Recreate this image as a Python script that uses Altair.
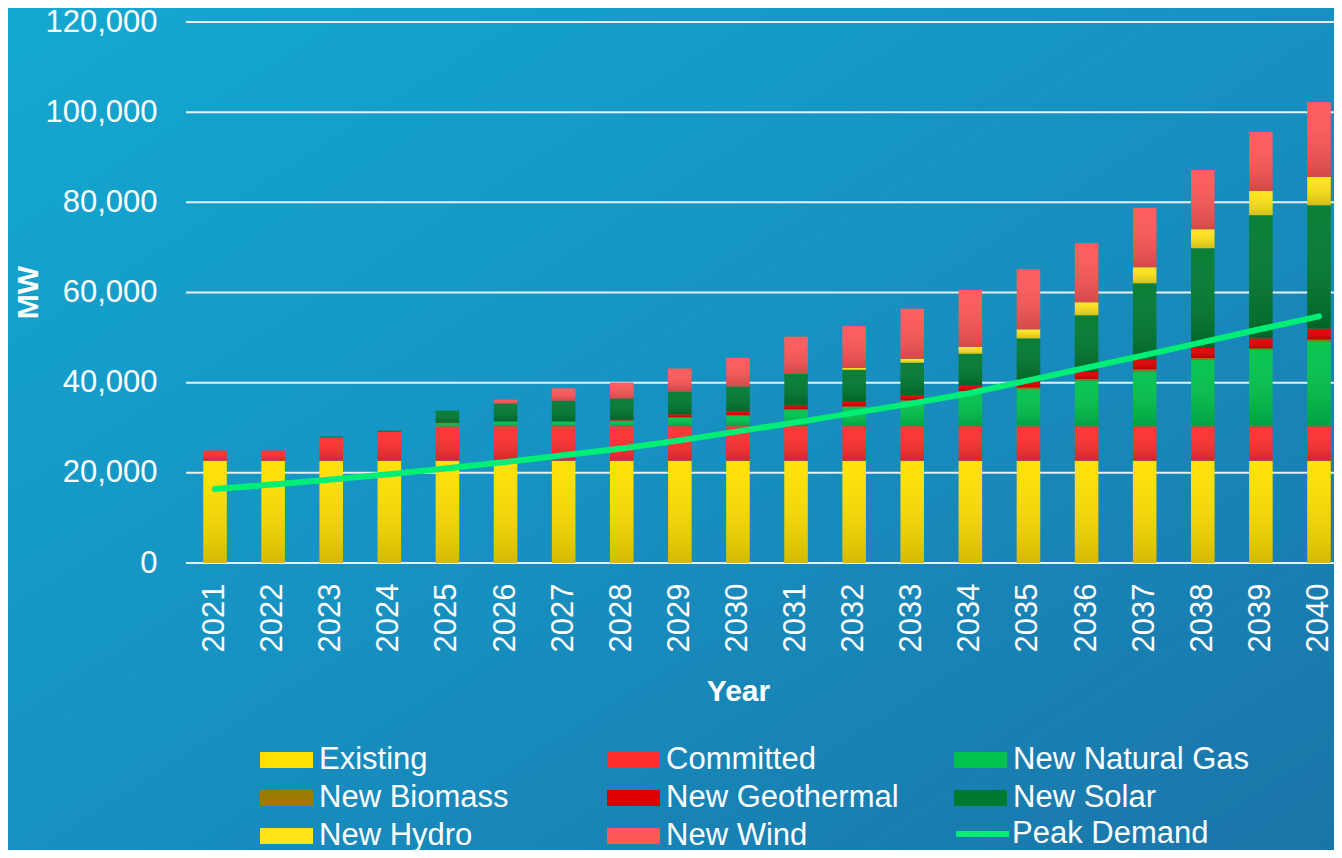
import altair as alt
import pandas as pd

years = [str(y) for y in range(2021, 2041)]
categories = ["Existing", "Committed", "New Natural Gas", "New Biomass",
              "New Geothermal", "New Solar", "New Hydro", "New Wind"]
colors = ["#FFE000", "#FF2E2E", "#00C24C", "#9C7C00",
          "#E00000", "#007A30", "#FFE41A", "#FF5757"]

existing = [22700, 22700, 22700, 22700, 22700, 22700, 22700, 22700, 22700, 22700,
            22700, 22700, 22700, 22700, 22700, 22700, 22700, 22700, 22700, 22700]
committed = [2250, 2250, 5150, 6450, 7600, 7650, 7650, 7650, 7650, 7650,
             7650, 7650, 7650, 7650, 7650, 7650, 7650, 7650, 7650, 7650]
new_gas = [0, 0, 0, 0, 500, 1040, 1040, 1100, 1850, 2300,
           3600, 4250, 5600, 7600, 8220, 10150, 12150, 14670, 16890, 18810]
new_biomass = [0, 0, 0, 0, 300, 0, 0, 200, 150, 150,
               150, 150, 150, 200, 370, 300, 440, 440, 370, 440]
new_geothermal = [0, 0, 0, 0, 0, 0, 0, 100, 650, 800,
                  1000, 1200, 1200, 1150, 1780, 1560, 2150, 2220, 2220, 2440]
new_solar = [0, 0, 200, 220, 2680, 3950, 4620, 4740, 5030, 5550,
             6810, 6890, 7110, 7110, 9110, 12590, 16960, 22150, 27330, 27340]
new_hydro = [0, 0, 0, 0, 0, 0, 0, 0, 0, 0,
             0, 440, 890, 1550, 2000, 2890, 3560, 4220, 5340, 6220]
new_wind = [0, 0, 0, 0, 0, 890, 2730, 3550, 5110, 6370,
            8290, 9260, 11110, 12600, 13330, 13110, 13180, 13110, 13110, 16660]
peak_demand = [16400, 17400, 18500, 19700, 21000, 22400, 23900, 25400, 27200, 29200,
               31200, 33300, 35400, 37700, 40500, 43300, 46100, 49000, 51900, 54700]
y_ticks = [0, 20000, 40000, 60000, 80000, 100000, 120000]

series = [existing, committed, new_gas, new_biomass, new_geothermal,
          new_solar, new_hydro, new_wind]
rows = []
for k, (cat, vals) in enumerate(zip(categories, series)):
    for yr, v in zip(years, vals):
        rows.append({"year": yr, "category": cat, "k": k, "value": v})
bars_df = pd.DataFrame(rows)
line_df = pd.DataFrame({"year": years, "demand": peak_demand,
                        "series": ["Peak Demand"] * len(years)})
grid_df = pd.DataFrame({"tick": y_ticks})
bg_df = pd.DataFrame({"bg": [1]})

FONT = "Liberation Sans"
W, H = 1148, 541
PAD = {"left": 178, "top": 14, "right": 0, "bottom": 287}

x_scale = alt.Scale(domain=years, range=[0, 1162], paddingInner=0.595, paddingOuter=0.297)
y_scale = alt.Scale(domain=[0, 120000], nice=False, zero=True)

background = alt.Chart(bg_df).mark_rect(
    fill=alt.Gradient(gradient="linear", x1=0, y1=0, x2=1, y2=1,
                      stops=[alt.GradientStop(offset=0, color="#13A9D1"),
                             alt.GradientStop(offset=0.5, color="#1691C1"),
                             alt.GradientStop(offset=1, color="#1B74A8")])
).encode(
    x=alt.value(-PAD["left"]), x2=alt.value(W + PAD["right"]),
    y=alt.value(-PAD["top"]), y2=alt.value(H + PAD["bottom"])
)

grid = alt.Chart(grid_df).mark_rule(color="#E4EFF6", strokeWidth=2).encode(
    y=alt.Y("tick:Q", scale=y_scale,
            axis=alt.Axis(values=y_ticks, labelExpr="format(datum.value, ',.0f')",
                          labelFontSize=31,
                          labelColor="white", labelFont=FONT, labelPadding=29,
                          ticks=False, domain=False, grid=False, zindex=2,
                          title="MW", titleFont=FONT, titleFontSize=30,
                          titleFontWeight="bold", titleColor="white",
                          titleX=-158, titleY=270, titleAngle=270,
                          titleAlign="center", titleBaseline="middle"))
)

base = alt.Chart(bars_df).transform_stack(
    stack="value", groupby=["year"], sort=[alt.SortField("k", order="ascending")],
    as_=["y0", "y1"]
)

x_enc = alt.X("year:O", scale=x_scale, sort=years,
              axis=alt.Axis(labelAngle=270, labelAlign="right", labelBaseline="middle",
                            labelPadding=20, labelFontSize=31, labelColor="white",
                            labelFont=FONT, ticks=False, domain=False, grid=False,
                            zindex=2,
                            title="Year", titleFont=FONT, titleFontSize=30,
                            titleFontWeight="bold", titleColor="white",
                            titleX=552, titleY=128, titleAlign="center",
                            titleBaseline="middle"))

bars = base.mark_bar().encode(
    x=x_enc,
    y=alt.Y("y0:Q", scale=y_scale, title="MW"),
    y2="y1:Q",
    color=alt.Color("category:N",
                    scale=alt.Scale(domain=categories, range=colors),
                    legend=alt.Legend(title=None, orient="none", legendX=74, legendY=722.5,
                                      direction="horizontal",
                                      columns=3, gridAlign="all", columnPadding=51,
                                      rowPadding=6, clipHeight=31,
                                      symbolType="M-1,-0.302H1V0.302H-1Z",
                                      symbolSize=2809, symbolStrokeWidth=0,
                                      symbolOpacity=1, zindex=2,
                                      labelFontSize=31, labelColor="white",
                                      labelFont=FONT, labelOffset=6, labelLimit=400))
)

shade = base.mark_bar(
    fill=alt.Gradient(gradient="linear", x1=0, y1=0, x2=0, y2=1,
                      stops=[alt.GradientStop(offset=0, color="rgba(255,255,255,0.04)"),
                             alt.GradientStop(offset=1, color="rgba(0,0,0,0.17)")])
).encode(
    x=alt.X("year:O", scale=x_scale, sort=years),
    y=alt.Y("y0:Q", scale=y_scale),
    y2="y1:Q"
)

line = alt.Chart(line_df).mark_line(strokeWidth=6, strokeCap="round").encode(
    x=alt.X("year:O", scale=x_scale, sort=years),
    y=alt.Y("demand:Q", scale=y_scale),
    stroke=alt.Stroke("series:N",
                      scale=alt.Scale(domain=["Peak Demand"], range=["#00EE76"]),
                      legend=alt.Legend(title=None, orient="none", legendX=767,
                                        legendY=796.5, symbolType="stroke",
                                        symbolSize=2809, symbolStrokeWidth=6,
                                        clipHeight=31, zindex=2,
                                        labelFontSize=31, labelColor="white",
                                        labelFont=FONT, labelOffset=0, labelLimit=400))
)

chart = alt.layer(background, grid, bars, shade, line).properties(
    width=W, height=H, padding=PAD, autosize="none", background="#1691C1"
).configure_view(stroke=None)

chart.save("out.html", embed_options={"renderer": "svg", "actions": False})
